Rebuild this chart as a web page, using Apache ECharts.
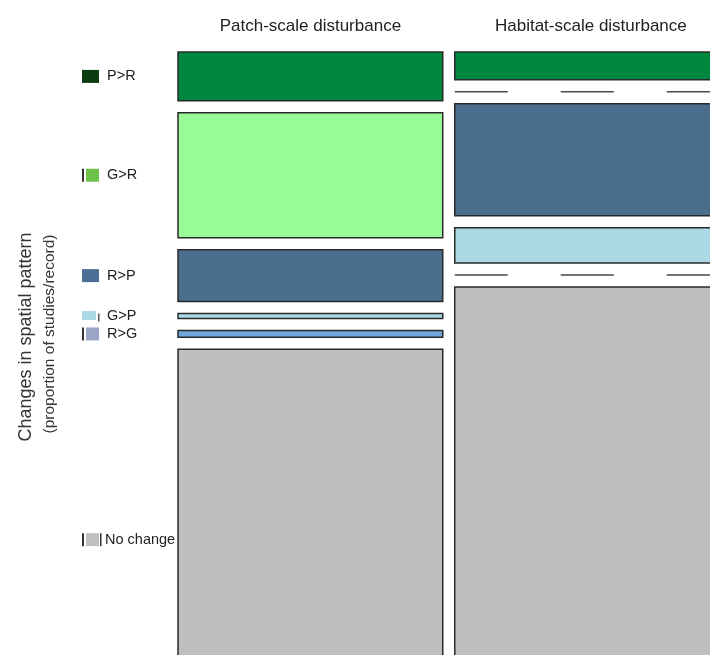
<!DOCTYPE html>
<html>
<head>
<meta charset="utf-8">
<script src="https://cdn.jsdelivr.net/npm/echarts@6/dist/echarts.min.js"></script>
<style>html,body{margin:0;padding:0;background:#fff}#c{width:710px;height:655px}</style>
</head>
<body>
<div id="c"></div>
<script>
// ---- data ----
const rowNames = ['P>R', 'G>R', 'R>P', 'G>P', 'R>G', 'No change'];
const columnNames = ['Patch-scale disturbance', 'Habitat-scale disturbance'];
const columnShare = [49.3, 50.7];              // share of studies per disturbance scale (%)
const patchProp = [7.9, 20.2, 8.4, 0.8, 1.1, 61.6];   // % of records, patch-scale
const habitatProp = [4.5, 0, 18.1, 5.7, 0, 71.7];      // % of records, habitat-scale
const fillColors = ['#00873f', '#98fb98', '#4b6e8c', '#add8e6', '#6fa8dc', '#bebebe'];
const legendColors = ['#0b3d12', '#6cc24a', '#4d6f96', '#add8e6', '#9aa5c8', '#c0c0c0'];

// ---- layout ----
const GRID = {left: 178, top: 52, width: 549, height: 678, outerBoundsMode: 'none', containLabel: false};
const GAP_PX = 12;
const nRows = rowNames.length;
const gY = 100 * GAP_PX / (GRID.height - (nRows - 1) * GAP_PX);
const gX = 100 * GAP_PX / (GRID.width - (columnNames.length - 1) * GAP_PX);
const yMax = 100 + (nRows - 1) * gY;
const xMax = 100 + (columnNames.length - 1) * gX;

const colProps = [patchProp, habitatProp];
const cells = [];
const colCenters = [];
let x0 = 0;
columnNames.forEach((cn, ci) => {
  const x1 = x0 + columnShare[ci];
  colCenters.push([(x0 + x1) / 2, ci]);
  let y0 = 0;
  colProps[ci].forEach((v, ri) => {
    const y1 = y0 + v;
    cells.push([x0, x1, y0, y1, ri, ci]);
    y0 = y1 + gY;
  });
  x0 = x1 + gX;
});
const labelRows = cells.filter(c => c[5] === 0).map(c => [c[0], (c[2] + c[3]) / 2, c[4]]);

const FONT = '"Liberation Sans", Arial, sans-serif';
const chart = echarts.init(document.getElementById('c'), null, {renderer: 'canvas'});
chart.setOption({
  animation: false,
  backgroundColor: '#ffffff',
  grid: GRID,
  xAxis: {type: 'value', min: 0, max: xMax, show: false},
  yAxis: {type: 'value', min: 0, max: yMax, inverse: true, show: false},
  graphic: [{
    type: 'text', x: 26, y: 337, rotation: Math.PI / 2,
    style: {text: 'Changes in spatial pattern', fill: '#333', font: '18px ' + FONT,
      textAlign: 'center', textVerticalAlign: 'middle'}
  }, {
    type: 'text', x: 50, y: 334, rotation: Math.PI / 2,
    style: {text: '(proportion of studies/record)', fill: '#333', font: '15.5px ' + FONT,
      textAlign: 'center', textVerticalAlign: 'middle'}
  }],
  series: [{
    type: 'custom', clip: false, data: cells,
    renderItem: function (params, api) {
      const p0 = api.coord([api.value(0), api.value(2)]);
      const p1 = api.coord([api.value(1), api.value(3)]);
      const ri = api.value(4);
      if (Math.abs(p1[1] - p0[1]) < 0.5) {
        return {type: 'line', shape: {x1: p0[0], y1: p0[1], x2: p1[0], y2: p0[1]},
          style: {stroke: '#4a4a4a', lineWidth: 1.5, lineDash: [53, 53]}};
      }
      return {type: 'rect', shape: {x: p0[0], y: p0[1], width: p1[0] - p0[0], height: p1[1] - p0[1]},
        style: {fill: fillColors[ri], stroke: '#2a2a2a', lineWidth: 1.5}};
    }
  }, {
    type: 'custom', clip: false, data: colCenters,
    renderItem: function (params, api) {
      const p = api.coord([api.value(0), 0]);
      return {type: 'text', x: p[0], y: p[1] - 26,
        style: {text: columnNames[api.value(1)], fill: '#222', font: '17px ' + FONT,
          textAlign: 'center', textVerticalAlign: 'middle'}};
    }
  }, {
    type: 'custom', clip: false, data: labelRows,
    renderItem: function (params, api) {
      const p = api.coord([api.value(0), api.value(1)]);
      const ri = api.value(2);
      const sx = p[0] - 96, sy = p[1] - 6.5;
      const children = [];
      if (ri === 0 || ri === 2) {
        children.push({type: 'rect', shape: {x: sx, y: sy, width: 17, height: 13}, style: {fill: legendColors[ri]}});
      } else if (ri === 3) {
        children.push({type: 'rect', shape: {x: sx, y: sy + 1.5, width: 14, height: 9}, style: {fill: legendColors[ri]}});
        children.push({type: 'rect', shape: {x: sx + 16, y: sy + 4, width: 1.5, height: 8}, style: {fill: '#555'}});
      } else {
        children.push({type: 'rect', shape: {x: sx, y: sy, width: 2, height: 13}, style: {fill: '#333'}});
        children.push({type: 'rect', shape: {x: sx + 4, y: sy, width: 13, height: 13}, style: {fill: legendColors[ri]}});
        if (ri === 5) children.push({type: 'rect', shape: {x: sx + 18, y: sy, width: 1.5, height: 13}, style: {fill: '#333'}});
      }
      children.push({type: 'text', x: sx + (ri === 5 ? 23 : 25), y: p[1],
        style: {text: rowNames[ri], fill: '#222', font: '14.5px ' + FONT,
          textAlign: 'left', textVerticalAlign: 'middle'}});
      return {type: 'group', children: children};
    }
  }]
});
</script>
</body>
</html>
